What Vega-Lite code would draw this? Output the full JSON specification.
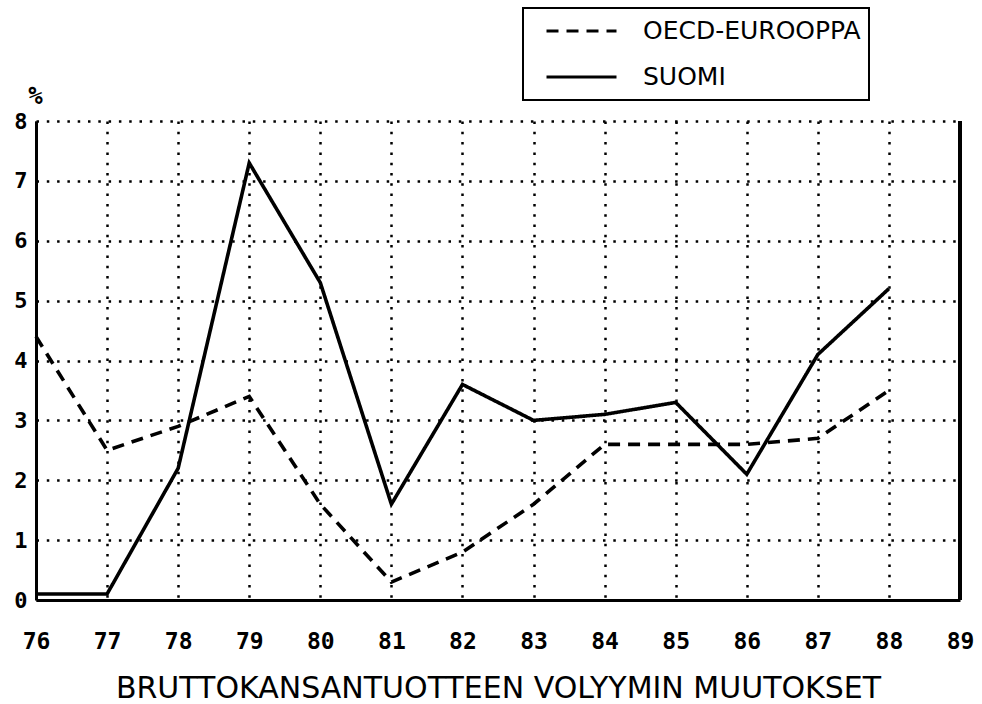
{
  "$schema": "https://vega.github.io/schema/vega-lite/v6.json",
  "width": 924,
  "height": 479,
  "autosize": "none",
  "padding": {"left": 36, "top": 121, "right": 22, "bottom": 104},
  "background": "white",
  "data": {
    "values": [
      {"year": 76, "series": "OECD-EUROOPPA", "value": 4.4},
      {"year": 77, "series": "OECD-EUROOPPA", "value": 2.5},
      {"year": 78, "series": "OECD-EUROOPPA", "value": 2.9},
      {"year": 79, "series": "OECD-EUROOPPA", "value": 3.4},
      {"year": 80, "series": "OECD-EUROOPPA", "value": 1.6},
      {"year": 81, "series": "OECD-EUROOPPA", "value": 0.3},
      {"year": 82, "series": "OECD-EUROOPPA", "value": 0.8},
      {"year": 83, "series": "OECD-EUROOPPA", "value": 1.6},
      {"year": 84, "series": "OECD-EUROOPPA", "value": 2.6},
      {"year": 85, "series": "OECD-EUROOPPA", "value": 2.6},
      {"year": 86, "series": "OECD-EUROOPPA", "value": 2.6},
      {"year": 87, "series": "OECD-EUROOPPA", "value": 2.7},
      {"year": 88, "series": "OECD-EUROOPPA", "value": 3.5},
      {"year": 76, "series": "SUOMI", "value": 0.1},
      {"year": 77, "series": "SUOMI", "value": 0.1},
      {"year": 78, "series": "SUOMI", "value": 2.2},
      {"year": 79, "series": "SUOMI", "value": 7.3},
      {"year": 80, "series": "SUOMI", "value": 5.3},
      {"year": 81, "series": "SUOMI", "value": 1.6},
      {"year": 82, "series": "SUOMI", "value": 3.6},
      {"year": 83, "series": "SUOMI", "value": 3.0},
      {"year": 84, "series": "SUOMI", "value": 3.1},
      {"year": 85, "series": "SUOMI", "value": 3.3},
      {"year": 86, "series": "SUOMI", "value": 2.1},
      {"year": 87, "series": "SUOMI", "value": 4.1},
      {"year": 88, "series": "SUOMI", "value": 5.2}
    ]
  },
  "layer": [
    {
      "mark": {"type": "line", "stroke": "black", "strokeWidth": 3.6, "strokeCap": "butt"},
      "encoding": {
        "x": {
          "field": "year", "type": "quantitative",
          "scale": {"domain": [76, 89], "nice": false, "zero": false},
          "axis": {
            "values": [76, 77, 78, 79, 80, 81, 82, 83, 84, 85, 86, 87, 88, 89],
            "format": "d",
            "title": "BRUTTOKANSANTUOTTEEN VOLYYMIN MUUTOKSET",
            "titleFont": "DejaVu Sans",
            "titleFontSize": 30,
            "titleFontWeight": "normal",
            "titleColor": "black",
            "titlePadding": 20,
            "labelFont": "DejaVu Sans Mono",
            "labelFontSize": 23,
            "labelFontWeight": "bold",
            "labelColor": "black",
            "labelPadding": 30,
            "labelFlush": false,
            "labelOverlap": false,
            "ticks": false,
            "domainColor": "black",
            "domainWidth": 3,
            "grid": true,
            "gridColor": "black",
            "gridWidth": 2.5,
            "gridDash": [2.5, 7.8],
            "gridOpacity": 1
          }
        },
        "y": {
          "field": "value", "type": "quantitative",
          "scale": {"domain": [0, 8], "nice": false},
          "axis": {
            "values": [0, 1, 2, 3, 4, 5, 6, 7, 8],
            "format": "d",
            "title": "%",
            "titleAngle": 0,
            "titleX": -1,
            "titleY": -25,
            "titleAlign": "center",
            "titleBaseline": "middle",
            "titleFont": "DejaVu Sans Mono",
            "titleFontSize": 24,
            "titleFontWeight": "bold",
            "titleColor": "black",
            "labelFont": "DejaVu Sans Mono",
            "labelFontSize": 22,
            "labelFontWeight": "bold",
            "labelColor": "black",
            "labelPadding": 9,
            "labelFlush": false,
            "ticks": false,
            "domainColor": "black",
            "domainWidth": 3,
            "grid": true,
            "gridColor": "black",
            "gridWidth": 2.5,
            "gridDash": [2.5, 7.8],
            "gridOpacity": 1
          }
        },
        "strokeDash": {
          "field": "series", "type": "nominal",
          "scale": {"domain": ["OECD-EUROOPPA", "SUOMI"], "range": [[12, 8], [1, 0]]},
          "legend": {
            "title": null,
            "orient": "none",
            "legendX": 487,
            "legendY": -113,
            "strokeColor": "black",
            "fillColor": "white",
            "padding": 8,
            "symbolType": "stroke",
            "symbolSize": 4900,
            "symbolStrokeWidth": 3,
            "symbolStrokeColor": "black",
            "clipHeight": 30,
            "rowPadding": 16,
            "symbolOffset": 14,
            "labelOffset": 25,
            "labelFont": "DejaVu Sans",
            "labelFontSize": 25,
            "labelColor": "black",
            "labelLimit": 500,
            "encode": {"legend": {"update": {"strokeWidth": {"value": 2}}}}
          }
        }
      }
    },
    {
      "mark": {"type": "rule", "stroke": "black", "strokeWidth": 3},
      "encoding": {
        "x": {"datum": 89},
        "y": {"datum": 0},
        "y2": {"datum": 8}
      }
    }
  ],
  "config": {
    "view": {"stroke": null}
  }
}
